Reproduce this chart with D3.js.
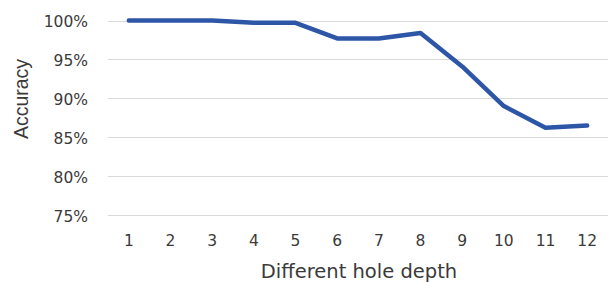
<!DOCTYPE html>
<html>
<head>
<meta charset="utf-8">
<script src="https://cdn.jsdelivr.net/npm/d3@7"></script>
<style>
  body { margin: 0; background: #fff; }
  text { font-family: "DejaVu Sans", sans-serif; fill: #3a3a3a; }
  .grid line { stroke: #d9d9d9; stroke-width: 1; }
  .line { fill: none; stroke: #2e56a6; stroke-width: 4.5; stroke-linejoin: round; stroke-linecap: round; }
</style>
</head>
<body>
<div id="chart"></div>
<script>
// hole depth categories and accuracy (%)
const depths = ['1', '2', '3', '4', '5', '6', '7', '8', '9', '10', '11', '12'];
const accuracy = [100, 100, 100, 99.7, 99.7, 97.7, 97.7, 98.4, 94.1, 89.0, 86.2, 86.5];
const yTicks = [75, 80, 85, 90, 95, 100];

const width = 610, height = 282;
const margin = {top: 20.5, right: 2, bottom: 67, left: 108};

const svg = d3.select('#chart').append('svg')
    .attr('width', width)
    .attr('height', height);

const x = d3.scaleBand()
    .domain(depths)
    .range([margin.left, width - margin.right]);

const y = d3.scaleLinear()
    .domain([75, 100])
    .range([height - margin.bottom, margin.top]);

// gridlines
svg.append('g')
    .attr('class', 'grid')
    .selectAll('line')
    .data(yTicks)
  .enter().append('line')
    .attr('x1', margin.left)
    .attr('x2', width - margin.right)
    .attr('y1', d => Math.round(y(d)) + 0.5)
    .attr('y2', d => Math.round(y(d)) + 0.5);

// y axis labels
const yAxis = d3.axisLeft(y)
    .tickValues(yTicks)
    .tickSize(0)
    .tickPadding(20)
    .tickFormat(d => d + '%');

svg.append('g')
    .attr('transform', `translate(${margin.left},0)`)
    .call(yAxis)
    .call(g => g.select('.domain').remove())
    .selectAll('text')
    .attr('dy', '0.4em')
    .style('font-size', '15.5px')
    .style('fill', '#3a3a3a');

// x axis labels
const xAxis = d3.axisBottom(x).tickSize(0).tickPadding(20);

svg.append('g')
    .attr('transform', `translate(0,${height - margin.bottom})`)
    .call(xAxis)
    .call(g => g.select('.domain').remove())
    .selectAll('text')
    .style('font-size', '15.5px')
    .style('fill', '#3a3a3a');

// axis titles
svg.append('text')
    .attr('x', 359)
    .attr('y', 278)
    .attr('text-anchor', 'middle')
    .style('font-size', '19.5px')
    .text('Different hole depth');

svg.append('text')
    .attr('transform', 'translate(28,99) rotate(-90)')
    .attr('text-anchor', 'middle')
    .style('font-family', '"Liberation Sans", Arial, sans-serif')
    .style('font-size', '19.5px')
    .text('Accuracy');

// the line
const line = d3.line()
    .x((d, i) => x(depths[i]) + x.bandwidth() / 2)
    .y(d => y(d));

svg.append('path')
    .datum(accuracy)
    .attr('class', 'line')
    .attr('d', line);
</script>
</body>
</html>
